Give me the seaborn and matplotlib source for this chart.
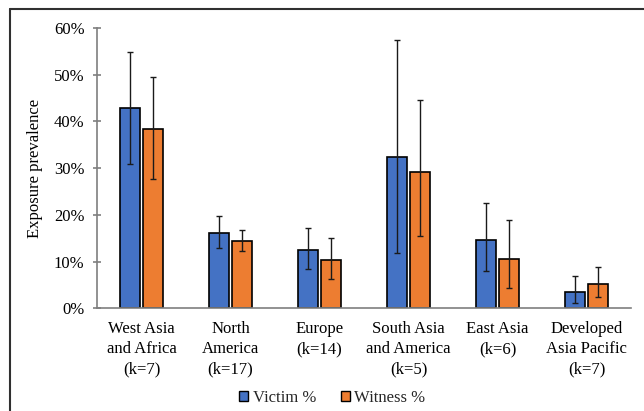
import matplotlib
matplotlib.use("Agg")
import matplotlib.pyplot as plt
from matplotlib.lines import Line2D
from matplotlib.patches import Patch
from matplotlib.ticker import FuncFormatter
import seaborn as sns
import pandas as pd
import numpy as np

regions = [
    "West Asia\nand Africa\n(k=7)",
    "North\nAmerica\n(k=17)",
    "Europe\n(k=14)",
    "South Asia\nand America\n(k=5)",
    "East Asia\n(k=6)",
    "Developed\nAsia Pacific\n(k=7)",
]
series = ["Victim %", "Witness %"]

victim = [42.8, 16.2, 12.6, 32.4, 14.7, 3.5]
victim_low = [31.0, 12.9, 8.4, 11.8, 8.1, 1.2]
victim_high = [54.9, 19.8, 17.2, 57.4, 22.6, 6.9]

witness = [38.4, 14.4, 10.4, 29.1, 10.6, 5.3]
witness_low = [27.6, 12.3, 6.4, 15.6, 4.4, 2.4]
witness_high = [49.5, 16.7, 15.1, 44.6, 18.9, 8.9]

colors = ["#4472C4", "#ED7D31"]

df = pd.DataFrame({
    "region": regions * 2,
    "group": [series[0]] * len(regions) + [series[1]] * len(regions),
    "value": victim + witness,
    "low": victim_low + witness_low,
    "high": victim_high + witness_high,
})

sns.set_theme(style="white")
plt.rcParams["font.family"] = ["Liberation Serif", "DejaVu Serif"]

fig = plt.figure(figsize=(6.44, 4.11), dpi=100)
ax = fig.add_axes([0.1506, 0.2494, 0.8294, 0.6825])

sns.barplot(data=df, x="region", y="value", hue="group", order=regions,
            hue_order=series, palette=colors, width=0.52, gap=0.12,
            errorbar=None, edgecolor="black", linewidth=1.2, ax=ax,
            legend=False, saturation=1)

# Error bars placed on the drawn bars
bars = [p for p in ax.patches if p.get_height() > 0]
bars.sort(key=lambda p: p.get_x())
for i, reg in enumerate(regions):
    for j, s in enumerate(series):
        row = df[(df.region == reg) & (df.group == s)].iloc[0]
        # bars are ordered by x: for each region victim then witness
        p = bars[2 * i + j]
        xc = p.get_x() + p.get_width() / 2
        ax.errorbar(xc, row.value,
                    yerr=[[row.value - row.low], [row.high - row.value]],
                    fmt="none", ecolor="#1a1a1a", elinewidth=1.0,
                    capsize=2.2, capthick=1.0, zorder=5)

ax.set_ylim(0, 60)
ax.set_xlim(-0.5, len(regions) - 0.5)
ax.set_yticks(np.arange(0, 61, 10))
ax.yaxis.set_major_formatter(FuncFormatter(lambda v, _: f"{int(v)}%"))
ax.set_xlabel("")
ax.set_ylabel("Exposure prevalence", fontsize=12, labelpad=8, color="black")

for side in ["top", "right"]:
    ax.spines[side].set_visible(False)
for side in ["left", "bottom"]:
    ax.spines[side].set_color("#7f7f7f")
    ax.spines[side].set_linewidth(1.2)

ax.tick_params(axis="y", direction="inout", length=6, width=1.2,
               color="#7f7f7f", labelsize=12, labelcolor="black", pad=6, left=True)
ax.tick_params(axis="x", length=0, labelsize=12, labelcolor="black", pad=9)
for lbl in ax.get_xticklabels():
    lbl.set_linespacing(1.33)

handles = [Patch(facecolor=c, edgecolor="black", linewidth=1.0, label=s)
           for c, s in zip(colors, series)]
fig.legend(handles=handles, loc="center", bbox_to_anchor=(0.516, 0.032),
           ncol=2, frameon=False, fontsize=12, handlelength=0.55,
           handleheight=0.55, handletextpad=0.25, columnspacing=1.5,
           borderaxespad=0)

# Frame lines along the top and left of the figure
fig.add_artist(Line2D([9.5 / 644, 9.5 / 644], [0, 1 - 9.5 / 411],
                      transform=fig.transFigure, color="#303030", linewidth=1.5))
fig.add_artist(Line2D([9.5 / 644, 1], [1 - 9.5 / 411, 1 - 9.5 / 411],
                      transform=fig.transFigure, color="#303030", linewidth=1.5))

fig.savefig("out.png", dpi=100)
